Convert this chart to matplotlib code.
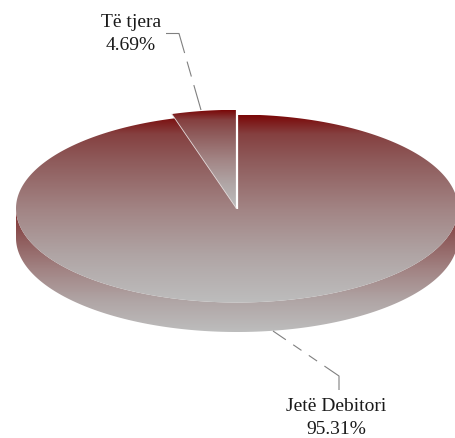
import numpy as np
import matplotlib
matplotlib.use('Agg')
import matplotlib.pyplot as plt
from matplotlib.colors import LinearSegmentedColormap
from matplotlib.patches import Polygon

plt.rcParams['font.family'] = ['Liberation Serif', 'DejaVu Serif']

nombres = ['Jetë Debitori', 'Të tjera']
valores = [95.31, 4.69]

# pie geometry in pixels
cx, cy = 237, 208.5
rx, ry = 221, 94
alto = 29.5
escala = 1.05

rojo = LinearSegmentedColormap.from_list('rojo', [(0, '#7a0808'), (0.1, '#854040'), (0.25, '#8f5c5c'),
                                                  (0.5, '#a28484'), (0.75, '#b0a5a5'), (1, '#bdbdbd')])


def degradado(ax, puntos, y0, y1, cmap):
    pol = Polygon(puntos, closed=True, transform=ax.transData, fc='none', ec='none')
    ax.add_patch(pol)
    g = np.linspace(0, 1, 256).reshape(-1, 1)
    im = ax.imshow(g, extent=[0, 456, y1, y0], cmap=cmap, aspect='auto', zorder=1)
    im.set_clip_path(pol)


fig = plt.figure(figsize=(4.56, 4.38), dpi=100)
ax = fig.add_axes([0, 0, 1, 1])

ang = 2 * np.pi * valores[1] / sum(valores)

# side wall
t = np.linspace(0, np.pi, 200)
abajo = np.column_stack([cx + rx * np.cos(t), cy + alto + ry * np.sin(t)])
arriba = np.column_stack([cx + rx * np.cos(t[::-1]), cy + ry * np.sin(t[::-1])])
degradado(ax, np.vstack([abajo, arriba]), 208, 332, rojo)

# big slice, clockwise from 12 o'clock, runs a bit under the small one
t = np.linspace(0, 2 * np.pi - ang * 0.93, 400)
arco = np.column_stack([cx + rx * np.sin(t), cy - ry * np.cos(t)])
degradado(ax, np.vstack([[cx, cy], arco]), 115, 303, rojo)

# small slice
t = np.linspace(-ang, 0, 40)
arco = np.column_stack([cx - 1 + rx * np.sin(t), cy - escala * ry * np.cos(t)])
pts = np.vstack([[cx - 0.5, cy], arco])
degradado(ax, pts, 110, 208, rojo)
ax.plot([cx, cx], [cy, cy - ry - 5], color='white', lw=1.6, zorder=3, solid_capstyle='butt')
ax.plot([cx - 0.5, arco[0, 0]], [cy, arco[0, 1]], color='#e4dcdc', lw=0.6, zorder=3)

# leader lines
ax.plot([166, 179, 201], [33.5, 33.5, 110], color='#808080', lw=0.8, zorder=2,
        ls=(0, (30, 8, 14, 8)))
ax.plot([273, 339, 339], [331, 376, 390], color='#808080', lw=0.8, zorder=2,
        ls=(0, (14, 8, 9, 8, 9, 8, 60)))

ax.text(131, 34, '{}\n{:.2f}%'.format(nombres[1], valores[1]), ha='center', va='center',
        fontsize=14, color='#1a1a1a', linespacing=1.5)
ax.text(336, 418, '{}\n{:.2f}%'.format(nombres[0], valores[0]), ha='center', va='center',
        fontsize=14, color='#1a1a1a', linespacing=1.5)

ax.set_xlim(0, 456)
ax.set_ylim(438, 0)
ax.axis('off')
fig.savefig('out.png', dpi=100)
